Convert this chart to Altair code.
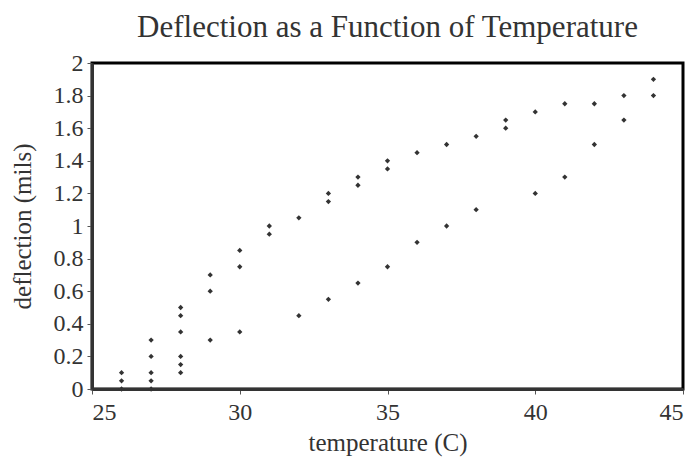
import altair as alt
import pandas as pd

temps = [26, 26, 26,
         27, 27, 27, 27, 27,
         28, 28, 28, 28, 28, 28,
         29, 29, 29,
         30, 30, 30,
         31, 31,
         32, 32,
         33, 33, 33,
         34, 34, 34,
         35, 35, 35,
         36, 36,
         37, 37,
         38, 38,
         39, 39,
         40, 40,
         41, 41,
         42, 42,
         43, 43,
         44, 44]
deflections = [0.0, 0.05, 0.1,
               0.0, 0.05, 0.1, 0.2, 0.3,
               0.1, 0.15, 0.2, 0.35, 0.45, 0.5,
               0.3, 0.6, 0.7,
               0.35, 0.75, 0.85,
               0.95, 1.0,
               0.45, 1.05,
               0.55, 1.15, 1.2,
               0.65, 1.25, 1.3,
               0.75, 1.35, 1.4,
               0.9, 1.45,
               1.0, 1.5,
               1.1, 1.55,
               1.6, 1.65,
               1.2, 1.7,
               1.3, 1.75,
               1.5, 1.75,
               1.65, 1.8,
               1.8, 1.9]

x_ticks = [25, 30, 35, 40, 45]
y_ticks = [0, 0.2, 0.4, 0.6, 0.8, 1.0, 1.2, 1.4, 1.6, 1.8, 2.0]

df = pd.DataFrame({"temperature": temps, "deflection": deflections})

FONT = "Liberation Serif"

chart = alt.Chart(df).mark_point(
    shape="diamond", filled=True, size=28, color="#333333", opacity=1
).encode(
    x=alt.X("temperature:Q", title="temperature (C)",
            scale=alt.Scale(domain=[25, 45], nice=False, zero=False),
            axis=alt.Axis(values=x_ticks, format="~g", grid=False, tickSize=5,
                          labelFont=FONT, labelFontSize=24, titleFont=FONT,
                          titleFontSize=25, labelPadding=6, titlePadding=6,
                          titleFontWeight="normal")),
    y=alt.Y("deflection:Q", title="deflection (mils)",
            scale=alt.Scale(domain=[0, 2], nice=False),
            axis=alt.Axis(values=y_ticks, format="~g", grid=False, tickSize=5,
                          labelFont=FONT, labelFontSize=24, titleFont=FONT,
                          titleFontSize=25, labelPadding=4, titlePadding=18,
                          titleFontWeight="normal")),
).properties(
    width=591, height=326,
    title=alt.TitleParams("Deflection as a Function of Temperature", fontSize=31,
                          font=FONT, fontWeight="normal", color="#333333", offset=7),
    autosize=alt.AutoSizeParams(type="none"),
    padding={"left": 84, "top": 55, "right": 6, "bottom": 70},
).configure_view(
    stroke="#000000", strokeWidth=3
).configure_axis(
    labelColor="#333333", titleColor="#333333",
    domainColor="#333333", domainWidth=3, tickColor="#555555", tickWidth=1
)

chart.save("out.html", embed_options={"renderer": "svg", "actions": False})
